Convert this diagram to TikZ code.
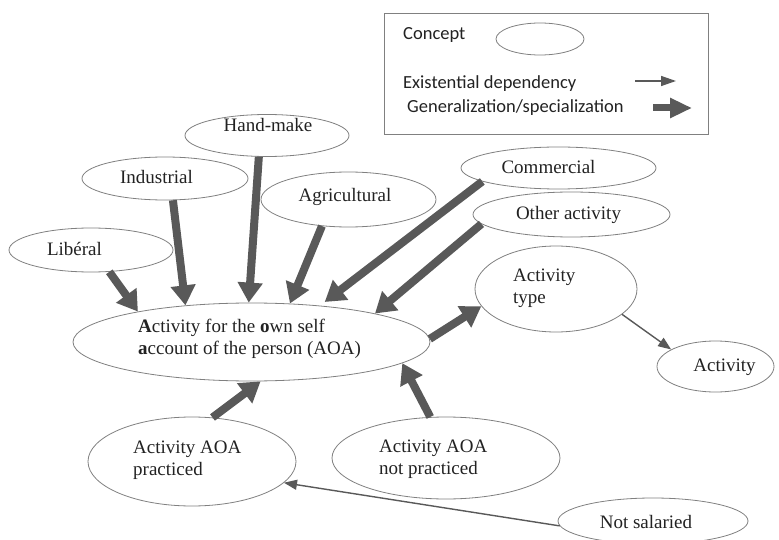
\documentclass[tikz,border=0pt]{standalone}
\usepackage{fontspec}
\setmainfont{Liberation Serif}
\newfontfamily\legendfont{Carlito}
\usetikzlibrary{shapes.geometric,arrows.meta}
\definecolor{rimgray}{HTML}{808080}
\definecolor{arrowgray}{HTML}{595959}
\definecolor{inkgray}{HTML}{222222}
% left-aligned lines whose baseline is that of the first line
\newcommand{\lines}[1]{\begin{tabular}[t]{@{}l@{}}#1\end{tabular}}
\begin{document}
\begin{tikzpicture}[x=1pt,y=1pt,
  concept/.style={ellipse, draw=rimgray, line width=0.8pt, inner sep=0pt},
  lbl/.style={inner sep=0pt, text=inkgray, font=\fontsize{19}{22.5}\selectfont, anchor=base west},
  leglbl/.style={inner sep=0pt, text=inkgray, font=\legendfont\fontsize{18.5}{22}\selectfont, anchor=base west},
  genarrow/.style={draw=arrowgray, line width=8pt, -{Triangle[length=20pt,width=24pt]}},
  deparrow/.style={draw=arrowgray, line width=1.4pt, -{Triangle[length=13pt,width=10pt]}},
]
\useasboundingbox[fill=white] (0,0) rectangle (779,-540);
\clip (0,0) rectangle (779,-540);

% legend
\node[draw=rimgray, line width=0.8pt, minimum width=324pt, minimum height=121pt,
      inner sep=0pt, anchor=north west] (legend) at (384,-13) {};
\node[leglbl] (leg-concept) at (403,-40) {Concept};
\node[concept, minimum width=88pt, minimum height=32pt] (leg-ell) at (540,-39) {};
\node[leglbl] (leg-dep) at (403,-89) {Existential dependency};
\node[leglbl] (leg-gen) at (407,-113) {Generalization/specialization};
\coordinate (dep-a) at (635,-81);
\coordinate (dep-b) at (676,-81);
\coordinate (gen-a) at (653,-108);
\coordinate (gen-b) at (692,-108);
\draw[draw=arrowgray, line width=1.4pt, -{Triangle[length=15pt,width=10pt]}] (dep-a) -- (dep-b);
\draw[draw=arrowgray, line width=7pt, -{Triangle[length=22pt,width=19pt]}] (gen-a) -- (gen-b);

% concepts
\node[concept, minimum width=164pt, minimum height=42pt] (hand) at (267,-135.5) {};
\node[concept, minimum width=166pt, minimum height=43pt] (ind) at (165,-178.5) {};
\node[concept, minimum width=164pt, minimum height=44pt] (lib) at (91,-250) {};
\node[concept, minimum width=175pt, minimum height=55pt] (agri) at (348.5,-199.5) {};
\node[concept, minimum width=195pt, minimum height=42pt] (comm) at (558.5,-168) {};
\node[concept, minimum width=197pt, minimum height=45pt] (other) at (571.5,-214.5) {};
\node[concept, minimum width=357pt, minimum height=78pt] (aoa) at (251.5,-342) {};
\node[concept, minimum width=162pt, minimum height=86pt] (type) at (556,-289) {};
\node[concept, minimum width=117pt, minimum height=51pt] (act) at (715.5,-366.5) {};
\node[concept, minimum width=208pt, minimum height=89pt] (prac) at (192,-461.5) {};
\node[concept, minimum width=228pt, minimum height=82pt] (notp) at (446,-458) {};
\node[concept, minimum width=190pt, minimum height=46pt] (nsal) at (653,-521) {};

% labels
\node[lbl, anchor=base] (hand-t) at (268,-132) {Hand-make};
\node[lbl, anchor=base] (ind-t) at (156.5,-184) {Industrial};
\node[lbl, anchor=base] (lib-t) at (74.5,-255) {Libéral};
\node[lbl, anchor=base] (agri-t) at (345,-202) {Agricultural};
\node[lbl, anchor=base] (comm-t) at (548.5,-174) {Commercial};
\node[lbl, anchor=base] (other-t) at (568.5,-220) {Other activity};
\node[lbl] (aoa-t) at (138,-332) {\lines{\textbf{A}ctivity for the \textbf{o}wn self\\\textbf{a}ccount of the person (AOA)}};
\node[lbl] (type-t) at (513,-281) {\lines{Activity\\type}};
\node[lbl, anchor=base] (act-t) at (724.5,-371) {Activity};
\node[lbl] (prac-t) at (133,-453) {\lines{Activity AOA\\practiced}};
\node[lbl] (notp-t) at (379,-452) {\lines{Activity AOA\\not practiced}};
\node[lbl, anchor=base] (nsal-t) at (646,-528) {Not salaried};

% generalization / specialization
\draw[genarrow] (lib.-50) -- (aoa.165);
\draw[genarrow] (ind.-70) -- (aoa.151.4);
\draw[genarrow] (hand.-111) -- (aoa.94.4);
\draw[genarrow] (agri.-135) -- (aoa.45.8);
\draw[genarrow, shorten >=6pt] (comm.190) -- (aoa.28.3);
\draw[genarrow] (other.186.3) -- (aoa.13.6);
\draw[genarrow] (prac.65.7) -- (aoa.-77);
\draw[genarrow] (notp.111.5) -- (aoa.-8.5);
\draw[genarrow] (aoa.1) -- (type.193.3);

% existential dependency
\draw[deparrow] (type.-21.6) -- (act.159);
\draw[deparrow] (nsal.183) -- (prac.-13);
\end{tikzpicture}
\end{document}
